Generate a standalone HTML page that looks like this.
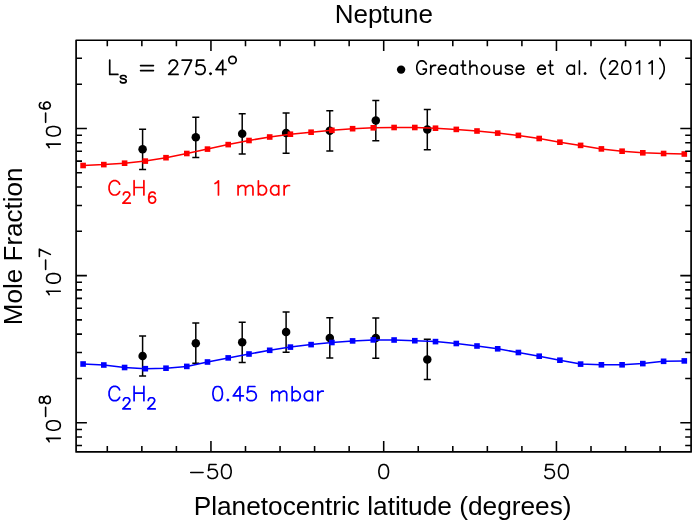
<!DOCTYPE html>
<html><head><meta charset="utf-8"><title>Neptune</title>
<style>html,body{margin:0;padding:0;background:#fff;}body{width:692px;height:523px;overflow:hidden;position:relative;font-family:"Liberation Sans",sans-serif;}</style>
</head><body>
<svg width="692" height="523" viewBox="0 0 692 523" style="position:absolute;left:0;top:0;will-change:transform">
<rect x="0" y="0" width="692" height="523" fill="#fff"/>
<path d="M142.6 129.2V169.4M139.1 129.2h7M139.1 169.4h7" stroke="#000" stroke-width="1.5" fill="none"/>
<circle cx="142.6" cy="149.3" r="4.25" fill="#000"/>
<path d="M195.8 117.2V157.4M192.3 117.2h7M192.3 157.4h7" stroke="#000" stroke-width="1.5" fill="none"/>
<circle cx="195.8" cy="137.3" r="4.25" fill="#000"/>
<path d="M242.2 113.7V153.9M238.7 113.7h7M238.7 153.9h7" stroke="#000" stroke-width="1.5" fill="none"/>
<circle cx="242.2" cy="133.8" r="4.25" fill="#000"/>
<path d="M286.1 113.0V153.2M282.6 113.0h7M282.6 153.2h7" stroke="#000" stroke-width="1.5" fill="none"/>
<circle cx="286.1" cy="133.1" r="4.25" fill="#000"/>
<path d="M329.8 110.7V150.9M326.3 110.7h7M326.3 150.9h7" stroke="#000" stroke-width="1.5" fill="none"/>
<circle cx="329.8" cy="130.8" r="4.25" fill="#000"/>
<path d="M375.8 100.5V140.7M372.3 100.5h7M372.3 140.7h7" stroke="#000" stroke-width="1.5" fill="none"/>
<circle cx="375.8" cy="120.6" r="4.25" fill="#000"/>
<path d="M427.3 109.5V149.7M423.8 109.5h7M423.8 149.7h7" stroke="#000" stroke-width="1.5" fill="none"/>
<circle cx="427.3" cy="129.6" r="4.25" fill="#000"/>
<path d="M142.6 335.9V376.1M139.1 335.9h7M139.1 376.1h7" stroke="#000" stroke-width="1.5" fill="none"/>
<circle cx="142.6" cy="356.0" r="4.25" fill="#000"/>
<path d="M195.8 323.1V363.3M192.3 323.1h7M192.3 363.3h7" stroke="#000" stroke-width="1.5" fill="none"/>
<circle cx="195.8" cy="343.2" r="4.25" fill="#000"/>
<path d="M242.2 322.2V362.4M238.7 322.2h7M238.7 362.4h7" stroke="#000" stroke-width="1.5" fill="none"/>
<circle cx="242.2" cy="342.3" r="4.25" fill="#000"/>
<path d="M286.1 312.0V352.2M282.6 312.0h7M282.6 352.2h7" stroke="#000" stroke-width="1.5" fill="none"/>
<circle cx="286.1" cy="332.1" r="4.25" fill="#000"/>
<path d="M329.8 317.8V358.0M326.3 317.8h7M326.3 358.0h7" stroke="#000" stroke-width="1.5" fill="none"/>
<circle cx="329.8" cy="337.9" r="4.25" fill="#000"/>
<path d="M375.8 318.0V358.2M372.3 318.0h7M372.3 358.2h7" stroke="#000" stroke-width="1.5" fill="none"/>
<circle cx="375.8" cy="338.1" r="4.25" fill="#000"/>
<path d="M427.3 339.3V379.5M423.8 339.3h7M423.8 379.5h7" stroke="#000" stroke-width="1.5" fill="none"/>
<circle cx="427.3" cy="359.4" r="4.25" fill="#000"/>
<path d="M83.1 165.5L103.8 164.6L124.6 163.2L145.3 161.1L166.0 157.7L186.8 153.5L207.5 149.1L228.2 144.6L249.0 140.5L269.7 137.0L290.4 134.2L311.1 132.2L331.9 130.3L352.6 128.7L373.3 127.8L394.1 127.5L414.8 127.5L435.5 128.2L456.3 129.4L477.0 131.0L497.7 133.1L518.4 135.4L539.2 138.5L559.9 142.2L580.6 145.4L601.4 148.9L622.1 151.2L642.8 152.8L663.6 153.5L684.3 154.0" stroke="#ff0000" stroke-width="1.55" fill="none" stroke-linejoin="round"/>
<rect x="80.3" y="162.7" width="5.6" height="5.6" fill="#ff0000"/>
<rect x="101.0" y="161.8" width="5.6" height="5.6" fill="#ff0000"/>
<rect x="121.8" y="160.4" width="5.6" height="5.6" fill="#ff0000"/>
<rect x="142.5" y="158.3" width="5.6" height="5.6" fill="#ff0000"/>
<rect x="163.2" y="154.9" width="5.6" height="5.6" fill="#ff0000"/>
<rect x="184.0" y="150.7" width="5.6" height="5.6" fill="#ff0000"/>
<rect x="204.7" y="146.3" width="5.6" height="5.6" fill="#ff0000"/>
<rect x="225.4" y="141.8" width="5.6" height="5.6" fill="#ff0000"/>
<rect x="246.2" y="137.7" width="5.6" height="5.6" fill="#ff0000"/>
<rect x="266.9" y="134.2" width="5.6" height="5.6" fill="#ff0000"/>
<rect x="287.6" y="131.4" width="5.6" height="5.6" fill="#ff0000"/>
<rect x="308.3" y="129.4" width="5.6" height="5.6" fill="#ff0000"/>
<rect x="329.1" y="127.5" width="5.6" height="5.6" fill="#ff0000"/>
<rect x="349.8" y="125.9" width="5.6" height="5.6" fill="#ff0000"/>
<rect x="370.5" y="125.0" width="5.6" height="5.6" fill="#ff0000"/>
<rect x="391.3" y="124.7" width="5.6" height="5.6" fill="#ff0000"/>
<rect x="412.0" y="124.7" width="5.6" height="5.6" fill="#ff0000"/>
<rect x="432.7" y="125.4" width="5.6" height="5.6" fill="#ff0000"/>
<rect x="453.5" y="126.6" width="5.6" height="5.6" fill="#ff0000"/>
<rect x="474.2" y="128.2" width="5.6" height="5.6" fill="#ff0000"/>
<rect x="494.9" y="130.3" width="5.6" height="5.6" fill="#ff0000"/>
<rect x="515.6" y="132.6" width="5.6" height="5.6" fill="#ff0000"/>
<rect x="536.4" y="135.7" width="5.6" height="5.6" fill="#ff0000"/>
<rect x="557.1" y="139.4" width="5.6" height="5.6" fill="#ff0000"/>
<rect x="577.8" y="142.6" width="5.6" height="5.6" fill="#ff0000"/>
<rect x="598.6" y="146.1" width="5.6" height="5.6" fill="#ff0000"/>
<rect x="619.3" y="148.4" width="5.6" height="5.6" fill="#ff0000"/>
<rect x="640.0" y="150.0" width="5.6" height="5.6" fill="#ff0000"/>
<rect x="660.8" y="150.7" width="5.6" height="5.6" fill="#ff0000"/>
<rect x="681.5" y="151.2" width="5.6" height="5.6" fill="#ff0000"/>
<path d="M83.1 364.0L103.8 365.0L124.6 367.5L145.3 368.7L166.0 368.2L186.8 366.4L207.5 362.0L228.2 357.9L249.0 354.0L269.7 350.3L290.4 347.1L311.1 344.6L331.9 342.5L352.6 340.9L373.3 339.9L394.1 340.0L414.8 340.7L435.5 341.6L456.3 343.5L477.0 346.0L497.7 348.8L518.4 352.5L539.2 356.2L559.9 360.2L580.6 364.1L601.4 364.8L622.1 364.8L642.8 363.6L663.6 361.3L684.3 360.9" stroke="#0000ff" stroke-width="1.55" fill="none" stroke-linejoin="round"/>
<rect x="80.3" y="361.2" width="5.6" height="5.6" fill="#0000ff"/>
<rect x="101.0" y="362.2" width="5.6" height="5.6" fill="#0000ff"/>
<rect x="121.8" y="364.7" width="5.6" height="5.6" fill="#0000ff"/>
<rect x="142.5" y="365.9" width="5.6" height="5.6" fill="#0000ff"/>
<rect x="163.2" y="365.4" width="5.6" height="5.6" fill="#0000ff"/>
<rect x="184.0" y="363.6" width="5.6" height="5.6" fill="#0000ff"/>
<rect x="204.7" y="359.2" width="5.6" height="5.6" fill="#0000ff"/>
<rect x="225.4" y="355.1" width="5.6" height="5.6" fill="#0000ff"/>
<rect x="246.2" y="351.2" width="5.6" height="5.6" fill="#0000ff"/>
<rect x="266.9" y="347.5" width="5.6" height="5.6" fill="#0000ff"/>
<rect x="287.6" y="344.3" width="5.6" height="5.6" fill="#0000ff"/>
<rect x="308.3" y="341.8" width="5.6" height="5.6" fill="#0000ff"/>
<rect x="329.1" y="339.7" width="5.6" height="5.6" fill="#0000ff"/>
<rect x="349.8" y="338.1" width="5.6" height="5.6" fill="#0000ff"/>
<rect x="370.5" y="337.1" width="5.6" height="5.6" fill="#0000ff"/>
<rect x="391.3" y="337.2" width="5.6" height="5.6" fill="#0000ff"/>
<rect x="412.0" y="337.9" width="5.6" height="5.6" fill="#0000ff"/>
<rect x="432.7" y="338.8" width="5.6" height="5.6" fill="#0000ff"/>
<rect x="453.5" y="340.7" width="5.6" height="5.6" fill="#0000ff"/>
<rect x="474.2" y="343.2" width="5.6" height="5.6" fill="#0000ff"/>
<rect x="494.9" y="346.0" width="5.6" height="5.6" fill="#0000ff"/>
<rect x="515.6" y="349.7" width="5.6" height="5.6" fill="#0000ff"/>
<rect x="536.4" y="353.4" width="5.6" height="5.6" fill="#0000ff"/>
<rect x="557.1" y="357.4" width="5.6" height="5.6" fill="#0000ff"/>
<rect x="577.8" y="361.3" width="5.6" height="5.6" fill="#0000ff"/>
<rect x="598.6" y="362.0" width="5.6" height="5.6" fill="#0000ff"/>
<rect x="619.3" y="362.0" width="5.6" height="5.6" fill="#0000ff"/>
<rect x="640.0" y="360.8" width="5.6" height="5.6" fill="#0000ff"/>
<rect x="660.8" y="358.5" width="5.6" height="5.6" fill="#0000ff"/>
<rect x="681.5" y="358.1" width="5.6" height="5.6" fill="#0000ff"/>
<rect x="76.1" y="40.25" width="615.0" height="411.65" fill="none" stroke="#000" stroke-width="1.7" stroke-linejoin="round"/>
<path d="M107.30 451.9v-5.9M107.30 40.25v5.9M141.85 451.9v-5.9M141.85 40.25v5.9M176.40 451.9v-5.9M176.40 40.25v5.9M210.95 451.9v-10.8M210.95 40.25v10.8M245.50 451.9v-5.9M245.50 40.25v5.9M280.05 451.9v-5.9M280.05 40.25v5.9M314.60 451.9v-5.9M314.60 40.25v5.9M349.15 451.9v-5.9M349.15 40.25v5.9M383.70 451.9v-10.8M383.70 40.25v10.8M418.25 451.9v-5.9M418.25 40.25v5.9M452.80 451.9v-5.9M452.80 40.25v5.9M487.35 451.9v-5.9M487.35 40.25v5.9M521.90 451.9v-5.9M521.90 40.25v5.9M556.45 451.9v-10.8M556.45 40.25v10.8M591.00 451.9v-5.9M591.00 40.25v5.9M625.55 451.9v-5.9M625.55 40.25v5.9M660.10 451.9v-5.9M660.10 40.25v5.9M76.1 445.49h5.9M691.1 445.49h-5.9M76.1 436.96h5.9M691.1 436.96h-5.9M76.1 429.43h5.9M691.1 429.43h-5.9M76.1 422.70h10.8M691.1 422.70h-10.8M76.1 378.42h5.9M691.1 378.42h-5.9M76.1 352.52h5.9M691.1 352.52h-5.9M76.1 334.14h5.9M691.1 334.14h-5.9M76.1 319.88h5.9M691.1 319.88h-5.9M76.1 308.23h5.9M691.1 308.23h-5.9M76.1 298.39h5.9M691.1 298.39h-5.9M76.1 289.86h5.9M691.1 289.86h-5.9M76.1 282.33h5.9M691.1 282.33h-5.9M76.1 275.60h10.8M691.1 275.60h-10.8M76.1 231.32h5.9M691.1 231.32h-5.9M76.1 205.42h5.9M691.1 205.42h-5.9M76.1 187.04h5.9M691.1 187.04h-5.9M76.1 172.78h5.9M691.1 172.78h-5.9M76.1 161.13h5.9M691.1 161.13h-5.9M76.1 151.29h5.9M691.1 151.29h-5.9M76.1 142.76h5.9M691.1 142.76h-5.9M76.1 135.23h5.9M691.1 135.23h-5.9M76.1 128.50h10.8M691.1 128.50h-10.8M76.1 84.22h5.9M691.1 84.22h-5.9M76.1 58.32h5.9M691.1 58.32h-5.9" stroke="#000" stroke-width="1.55" fill="none"/>
<path aria-label="−50" d="M190.74 472.51L203.07 472.51M207.87 475.84L208.55 477.17L209.24 477.83L211.29 478.50L213.35 478.50L215.40 477.83L216.77 476.50L217.46 474.51L217.46 473.18L216.77 471.19L215.40 469.86L213.35 469.19L211.29 469.19L209.24 469.86L208.55 470.52L209.24 464.54L216.09 464.54M221.57 470.52L221.57 472.51L222.25 475.84L223.62 477.83L225.68 478.50L227.05 478.50L229.10 477.83L230.47 475.84L231.16 472.51L231.16 470.52L230.47 467.19L229.10 465.20L227.05 464.54L225.68 464.54L223.62 465.20L222.25 467.19L221.57 470.52" stroke="#000" stroke-width="1.6" fill="none" stroke-linecap="round" stroke-linejoin="round"/>
<path aria-label="0" d="M378.90 470.52L378.90 472.51L379.59 475.84L380.96 477.83L383.01 478.50L384.38 478.50L386.44 477.83L387.81 475.84L388.49 472.51L388.49 470.52L387.81 467.19L386.44 465.20L384.38 464.54L383.01 464.54L380.96 465.20L379.59 467.19L378.90 470.52" stroke="#000" stroke-width="1.6" fill="none" stroke-linecap="round" stroke-linejoin="round"/>
<path aria-label="50" d="M544.80 475.84L545.49 477.17L546.17 477.83L548.23 478.50L550.28 478.50L552.34 477.83L553.71 476.50L554.39 474.51L554.39 473.18L553.71 471.19L552.34 469.86L550.28 469.19L548.23 469.19L546.17 469.86L545.49 470.52L546.17 464.54L553.02 464.54M558.50 470.52L558.50 472.51L559.19 475.84L560.56 477.83L562.62 478.50L563.99 478.50L566.04 477.83L567.41 475.84L568.10 472.51L568.10 470.52L567.41 467.19L566.04 465.20L563.99 464.54L562.62 464.54L560.56 465.20L559.19 467.19L558.50 470.52" stroke="#000" stroke-width="1.6" fill="none" stroke-linecap="round" stroke-linejoin="round"/>
<path aria-label="10^−6" d="M49.16 147.57L48.51 146.21L46.54 144.17L60.30 144.17M52.44 136.01L54.40 136.01L57.68 135.33L59.64 133.97L60.30 131.93L60.30 130.57L59.64 128.53L57.68 127.17L54.40 126.49L52.44 126.49L49.16 127.17L47.20 128.53L46.54 130.57L46.54 131.93L47.20 133.97L49.16 135.33L52.44 136.01M45.62 122.37L45.62 113.01M46.66 108.85L44.06 108.85L41.46 108.33L39.90 107.29L39.38 105.73L39.38 104.69L39.90 103.13L40.94 102.61M46.66 108.85L45.10 108.33L44.06 107.29L43.54 105.73L43.54 105.21L44.06 103.65L45.10 102.61L46.66 102.09L47.18 102.09L48.74 102.61L49.78 103.65L50.30 105.21L50.30 105.73L49.78 107.29L48.74 108.33L46.66 108.85" stroke="#000" stroke-width="1.6" fill="none" stroke-linecap="round" stroke-linejoin="round"/>
<path aria-label="10^−7" d="M49.16 294.67L48.51 293.31L46.54 291.27L60.30 291.27M52.44 283.11L54.40 283.11L57.68 282.43L59.64 281.07L60.30 279.03L60.30 277.67L59.64 275.63L57.68 274.27L54.40 273.59L52.44 273.59L49.16 274.27L47.20 275.63L46.54 277.67L46.54 279.03L47.20 281.07L49.16 282.43L52.44 283.11M45.62 269.47L45.62 260.11M39.38 256.47L39.38 249.19L50.30 254.39L40.42 249.71L49.26 253.87L39.38 249.19" stroke="#000" stroke-width="1.6" fill="none" stroke-linecap="round" stroke-linejoin="round"/>
<path aria-label="10^−8" d="M49.16 441.77L48.51 440.41L46.54 438.37L60.30 438.37M52.44 430.21L54.40 430.21L57.68 429.53L59.64 428.17L60.30 426.13L60.30 424.77L59.64 422.73L57.68 421.37L54.40 420.69L52.44 420.69L49.16 421.37L47.20 422.73L46.54 424.77L46.54 426.13L47.20 428.17L49.16 429.53L52.44 430.21M45.62 416.57L45.62 407.21M46.66 403.57L48.22 403.57L49.26 403.05L49.78 402.53L50.30 400.97L50.30 398.89L49.78 397.33L49.26 396.81L48.22 396.29L46.66 396.29L45.62 396.81L44.58 397.85L44.06 399.41L43.54 401.49L43.02 402.53L41.98 403.05L40.94 403.05L39.90 402.53L39.38 400.97L39.38 398.89L39.90 397.33L40.94 396.81L41.98 396.81L43.02 397.33L43.54 398.37L44.06 400.45L44.58 402.01L45.62 403.05L46.66 403.57" stroke="#000" stroke-width="1.6" fill="none" stroke-linecap="round" stroke-linejoin="round"/>
<path aria-label="Ls = 275.4°" d="M109.72 60.12L109.72 74.40L117.88 74.40M120.34 81.31L120.87 82.37L122.46 82.90L124.05 82.90L125.64 82.37L126.17 81.31L126.17 80.78L125.64 79.72L124.58 79.19L121.93 78.66L120.87 78.13L120.34 77.07L120.87 76.01L122.46 75.48L124.05 75.48L125.64 76.01L126.17 77.07M140.6 65.6H153.4M140.6 70.6H153.4M169.30 63.58L169.30 62.91L169.98 61.56L170.66 60.88L172.01 60.20L174.71 60.20L176.06 60.88L176.74 61.56L177.42 62.91L177.42 64.26L176.74 65.61L175.39 67.64L168.63 74.40L178.09 74.40M182.15 60.20L191.61 60.20L184.85 74.40L190.94 61.56L185.53 73.05L191.61 60.20M195.67 71.70L196.34 73.05L197.02 73.72L199.05 74.40L201.08 74.40L203.10 73.72L204.46 72.37L205.13 70.34L205.13 68.99L204.46 66.96L203.10 65.61L201.08 64.94L199.05 64.94L197.02 65.61L196.34 66.29L197.02 60.20L203.78 60.20M209.86 73.72L210.54 73.05L211.22 73.72L210.54 74.40L209.86 73.72M222.71 74.40L222.71 60.20L215.95 69.67L226.09 69.67" stroke="#000" stroke-width="1.7" fill="none" stroke-linecap="round" stroke-linejoin="round"/>
<circle cx="232.5" cy="60" r="3.7" fill="none" stroke="#000" stroke-width="1.7"/>
<circle cx="401.1" cy="69.6" r="4.2" fill="#000"/>
<path aria-label="Greathouse et al. (2011)" d="M423.13 69.14L426.29 69.14L426.29 71.04L425.66 72.30L424.39 73.57L423.13 74.20L420.60 74.20L419.33 73.57L418.06 72.30L417.43 71.04L416.80 69.14L416.80 65.97L417.43 64.08L418.06 62.81L419.33 61.54L420.60 60.91L423.13 60.91L424.39 61.54L425.66 62.81L426.29 64.08M430.72 65.34L430.72 74.20M430.72 69.14L431.35 67.24L432.62 65.97L433.88 65.34L435.78 65.34M438.31 69.14L438.31 70.40L438.95 72.30L440.21 73.57L441.48 74.20L443.38 74.20L444.64 73.57L445.91 72.30M438.31 69.14L438.95 67.24L440.21 65.97L441.48 65.34L443.38 65.34L444.64 65.97L445.27 66.61L445.91 67.87L445.91 69.14L438.31 69.14M457.30 65.34L457.30 74.20M457.30 67.24L456.03 65.97L454.77 65.34L452.87 65.34L451.60 65.97L450.34 67.24L449.70 69.14L449.70 70.40L450.34 72.30L451.60 73.57L452.87 74.20L454.77 74.20L456.03 73.57L457.30 72.30M461.09 65.34L465.52 65.34M462.99 60.91L462.99 71.67L463.63 73.57L464.89 74.20L466.16 74.20M469.95 60.91L469.95 74.20M469.95 67.87L471.85 65.97L473.12 65.34L475.02 65.34L476.28 65.97L476.91 67.87L476.91 74.20M481.34 69.14L481.34 70.40L481.98 72.30L483.24 73.57L484.51 74.20L486.41 74.20L487.67 73.57L488.94 72.30L489.57 70.40L489.57 69.14L488.94 67.24L487.67 65.97L486.41 65.34L484.51 65.34L483.24 65.97L481.98 67.24L481.34 69.14M494.00 65.34L494.00 71.67L494.63 73.57L495.90 74.20L497.80 74.20L499.06 73.57L500.96 71.67M500.96 65.34L500.96 74.20M505.39 72.30L506.02 73.57L507.92 74.20L509.82 74.20L511.72 73.57L512.35 72.30L512.35 71.67L511.72 70.40L510.45 69.77L507.29 69.14L506.02 68.50L505.39 67.24L506.02 65.97L507.92 65.34L509.82 65.34L511.72 65.97L512.35 67.24M516.15 69.14L516.15 70.40L516.78 72.30L518.05 73.57L519.31 74.20L521.21 74.20L522.48 73.57L523.74 72.30M516.15 69.14L516.78 67.24L518.05 65.97L519.31 65.34L521.21 65.34L522.48 65.97L523.11 66.61L523.74 67.87L523.74 69.14L516.15 69.14M537.66 69.14L537.66 70.40L538.30 72.30L539.56 73.57L540.83 74.20L542.73 74.20L543.99 73.57L545.26 72.30M537.66 69.14L538.30 67.24L539.56 65.97L540.83 65.34L542.73 65.34L543.99 65.97L544.62 66.61L545.26 67.87L545.26 69.14L537.66 69.14M548.42 65.34L552.85 65.34M550.32 60.91L550.32 71.67L550.95 73.57L552.22 74.20L553.48 74.20M574.37 65.34L574.37 74.20M574.37 67.24L573.10 65.97L571.83 65.34L569.94 65.34L568.67 65.97L567.40 67.24L566.77 69.14L566.77 70.40L567.40 72.30L568.67 73.57L569.94 74.20L571.83 74.20L573.10 73.57L574.37 72.30M579.43 60.91L579.43 74.20M584.49 73.57L585.12 72.93L585.76 73.57L585.12 74.20L584.49 73.57M605.37 58.38L604.11 59.65L602.84 61.54L601.58 64.08L600.94 67.24L600.94 69.77L601.58 72.93L602.84 75.47L604.11 77.36L605.37 78.63M609.80 64.08L609.80 63.44L610.44 62.18L611.07 61.54L612.33 60.91L614.86 60.91L616.13 61.54L616.76 62.18L617.40 63.44L617.40 64.71L616.76 65.97L615.50 67.87L609.17 74.20L618.03 74.20M621.83 66.61L621.83 68.50L622.46 71.67L623.72 73.57L625.62 74.20L626.89 74.20L628.79 73.57L630.05 71.67L630.68 68.50L630.68 66.61L630.05 63.44L628.79 61.54L626.89 60.91L625.62 60.91L623.72 61.54L622.46 63.44L621.83 66.61M636.38 63.44L637.65 62.81L639.54 60.91L639.54 74.20M649.04 63.44L650.30 62.81L652.20 60.91L652.20 74.20M659.79 58.38L661.06 59.65L662.32 61.54L663.59 64.08L664.22 67.24L664.22 69.77L663.59 72.93L662.32 75.47L661.06 77.36L659.79 78.63" stroke="#000" stroke-width="1.6" fill="none" stroke-linecap="round" stroke-linejoin="round"/>
<path aria-label="C2H6 1 mbar" d="M119.60 184.12L118.90 182.76L117.50 181.40L116.10 180.72L113.30 180.72L111.90 181.40L110.50 182.76L109.80 184.12L109.10 186.16L109.10 189.56L109.80 191.60L110.50 192.96L111.90 194.32L113.30 195.00L116.10 195.00L117.50 194.32L118.90 192.96L119.60 191.60M123.42 194.72L123.42 194.19L123.95 193.13L124.48 192.60L125.54 192.07L127.66 192.07L128.72 192.60L129.25 193.13L129.78 194.19L129.78 195.25L129.25 196.31L128.19 197.90L122.89 203.20L130.31 203.20M134.10 180.72L134.10 195.00M134.10 187.52L143.90 187.52M143.90 180.72L143.90 195.00M148.72 199.49L148.72 196.84L149.25 194.19L150.31 192.60L151.90 192.07L152.96 192.07L154.55 192.60L155.08 193.66M148.72 199.49L149.25 197.90L150.31 196.84L151.90 196.31L152.43 196.31L154.02 196.84L155.08 197.90L155.61 199.49L155.61 200.02L155.08 201.61L154.02 202.67L152.43 203.20L151.90 203.20L150.31 202.67L149.25 201.61L148.72 199.49M215.06 183.49L216.42 182.81L218.45 180.78L218.45 195.00M238.08 185.52L238.08 195.00M238.08 188.23L240.11 186.20L241.47 185.52L243.50 185.52L244.85 186.20L245.53 188.23L245.53 195.00M245.53 188.23L247.56 186.20L248.91 185.52L250.94 185.52L252.30 186.20L252.97 188.23L252.97 195.00M258.39 180.78L258.39 195.00M258.39 187.55L259.74 186.20L261.10 185.52L263.13 185.52L264.48 186.20L265.84 187.55L266.51 189.58L266.51 190.94L265.84 192.97L264.48 194.32L263.13 195.00L261.10 195.00L259.74 194.32L258.39 192.97M278.70 185.52L278.70 195.00M278.70 187.55L277.35 186.20L275.99 185.52L273.96 185.52L272.61 186.20L271.25 187.55L270.58 189.58L270.58 190.94L271.25 192.97L272.61 194.32L273.96 195.00L275.99 195.00L277.35 194.32L278.70 192.97M284.12 185.52L284.12 195.00M284.12 189.58L284.79 187.55L286.15 186.20L287.50 185.52L289.53 185.52" stroke="#ff0000" stroke-width="1.7" fill="none" stroke-linecap="round" stroke-linejoin="round"/>
<path aria-label="C2H2 0.45 mbar" d="M119.60 389.82L118.90 388.46L117.50 387.10L116.10 386.42L113.30 386.42L111.90 387.10L110.50 388.46L109.80 389.82L109.10 391.86L109.10 395.26L109.80 397.30L110.50 398.66L111.90 400.02L113.30 400.70L116.10 400.70L117.50 400.02L118.90 398.66L119.60 397.30M123.42 400.42L123.42 399.89L123.95 398.83L124.48 398.30L125.54 397.77L127.66 397.77L128.72 398.30L129.25 398.83L129.78 399.89L129.78 400.95L129.25 402.01L128.19 403.60L122.89 408.90L130.31 408.90M134.10 386.42L134.10 400.70M134.10 393.22L143.90 393.22M143.90 386.42L143.90 400.70M148.32 400.42L148.32 399.89L148.85 398.83L149.38 398.30L150.44 397.77L152.56 397.77L153.62 398.30L154.15 398.83L154.68 399.89L154.68 400.95L154.15 402.01L153.09 403.60L147.79 408.90L155.21 408.90M212.93 392.58L212.93 394.61L213.61 397.99L214.96 400.02L216.99 400.70L218.35 400.70L220.38 400.02L221.73 397.99L222.41 394.61L222.41 392.58L221.73 389.19L220.38 387.16L218.35 386.48L216.99 386.48L214.96 387.16L213.61 389.19L212.93 392.58M227.15 400.02L227.83 399.35L228.50 400.02L227.83 400.70L227.15 400.02M240.01 400.70L240.01 386.48L233.24 395.96L243.40 395.96M246.78 397.99L247.46 399.35L248.13 400.02L250.17 400.70L252.20 400.70L254.23 400.02L255.58 398.67L256.26 396.64L256.26 395.28L255.58 393.25L254.23 391.90L252.20 391.22L250.17 391.22L248.13 391.90L247.46 392.58L248.13 386.48L254.91 386.48M271.83 391.22L271.83 400.70M271.83 393.93L273.86 391.90L275.22 391.22L277.25 391.22L278.60 391.90L279.28 393.93L279.28 400.70M279.28 393.93L281.31 391.90L282.66 391.22L284.69 391.22L286.05 391.90L286.72 393.93L286.72 400.70M292.14 386.48L292.14 400.70M292.14 393.25L293.49 391.90L294.85 391.22L296.88 391.22L298.23 391.90L299.59 393.25L300.26 395.28L300.26 396.64L299.59 398.67L298.23 400.02L296.88 400.70L294.85 400.70L293.49 400.02L292.14 398.67M312.45 391.22L312.45 400.70M312.45 393.25L311.10 391.90L309.74 391.22L307.71 391.22L306.36 391.90L305.00 393.25L304.33 395.28L304.33 396.64L305.00 398.67L306.36 400.02L307.71 400.70L309.74 400.70L311.10 400.02L312.45 398.67M317.87 391.22L317.87 400.70M317.87 395.28L318.54 393.25L319.90 391.90L321.25 391.22L323.28 391.22" stroke="#0000ff" stroke-width="1.7" fill="none" stroke-linecap="round" stroke-linejoin="round"/>
<g font-family="Liberation Sans, sans-serif" fill="#000">
<text x="383.8" y="22.7" font-size="26px" text-anchor="middle">Neptune</text>
<text x="382.6" y="514.6" font-size="26.25px" text-anchor="middle">Planetocentric latitude (degrees)</text>
<text transform="translate(22.4 246.3) rotate(-90)" font-size="26.05px" text-anchor="middle">Mole Fraction</text>
</g>
</svg>
</body></html>
